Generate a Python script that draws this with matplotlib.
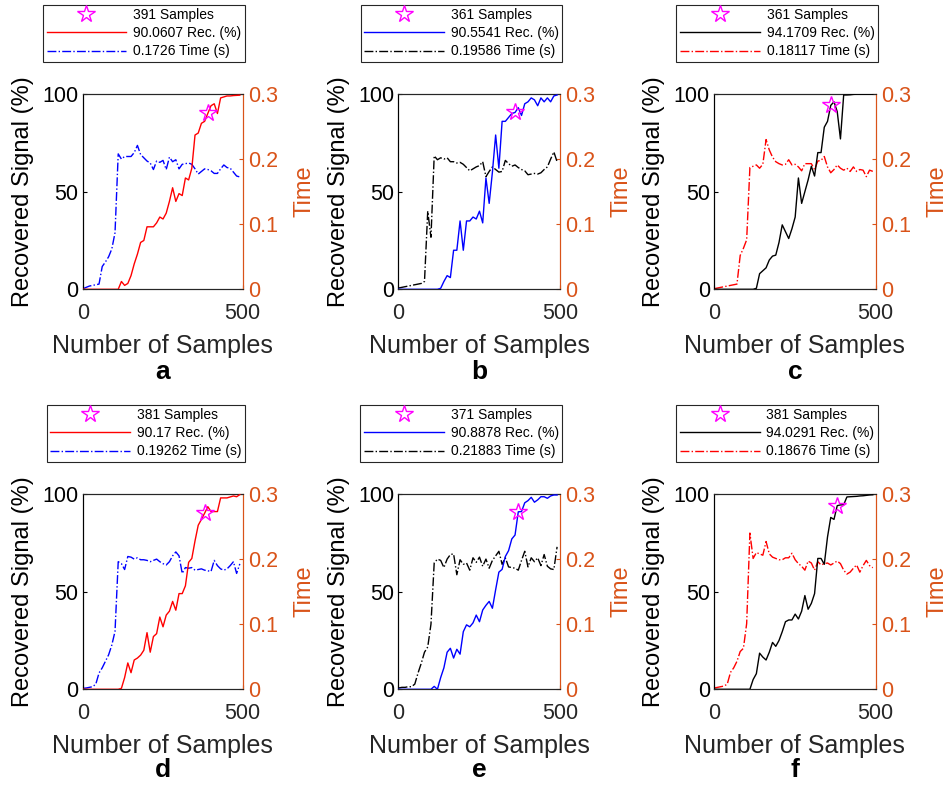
#!/usr/bin/env python3
"""Recovered signal and run time versus number of samples, six panels."""

import matplotlib

matplotlib.use("Agg")
import matplotlib.pyplot as plt
from matplotlib.lines import Line2D

plt.rcParams["font.family"] = ["Liberation Sans", "DejaVu Sans"]

ORANGE = "#D95319"
DARK = "#262626"

# sample counts on the x axis (1, 11, ..., 491)
n_samples = list(range(1, 500, 10))

panel_names = ["a", "b", "c", "d", "e", "f"]
star_samples = [391, 361, 361, 381, 371, 381]
star_rec = [90.0607, 90.5541, 94.1709, 90.17, 90.8878, 94.0291]
final_time = [0.1726, 0.19586, 0.18117, 0.19262, 0.21883, 0.18676]
rec_colors = ["#FF0000", "#0000FF", "#000000", "#FF0000", "#0000FF", "#000000"]
time_colors = ["#0000FF", "#000000", "#FF0000", "#0000FF", "#000000", "#FF0000"]

rec_a = [0] * 12 + [4, 2, 3, 7, 13, 18, 24, 25, 32, 32, 32, 34, 37, 36, 39, 45, 52, 45,
                    49, 48, 57, 56, 62, 79, 80, 85, 86, 90.0607, 94, 95, 90, 98, 98.5,
                    99, 99, 99.2, 99.3, 99.4]
time_a = [0.001, 0.003, 0.005, 0.006, 0.007, 0.008, 0.035, 0.042, 0.05, 0.062,
          0.087, 0.208, 0.200, 0.204, 0.204, 0.204, 0.210, 0.221, 0.207, 0.202,
          0.197, 0.194, 0.184, 0.197, 0.195, 0.198, 0.184, 0.203, 0.196, 0.199,
          0.185, 0.192, 0.193, 0.194, 0.192, 0.185, 0.177, 0.181, 0.185, 0.184,
          0.182, 0.178, 0.178, 0.185, 0.191, 0.187, 0.186, 0.180, 0.174, 0.1726]

rec_b = [0] * 13 + [0.5, 4, 7, 6, 20, 20, 35, 20, 35, 35, 37, 36, 40, 34, 57, 44, 60,
                    79, 62, 86, 86, 88, 90, 90.5541, 93, 89, 95, 96, 98, 97, 94, 98,
                    96, 98, 96, 99, 99.5]
time_b = [0.002, 0.003, 0.004, 0.005, 0.006, 0.007, 0.008, 0.009, 0.012, 0.120,
          0.080, 0.205, 0.199, 0.202, 0.200, 0.202, 0.196, 0.196, 0.194, 0.195,
          0.192, 0.187, 0.182, 0.185, 0.188, 0.190, 0.196, 0.173, 0.181, 0.188,
          0.184, 0.180, 0.181, 0.198, 0.193, 0.189, 0.191, 0.187, 0.184, 0.182,
          0.176, 0.177, 0.178, 0.177, 0.179, 0.184, 0.188, 0.200, 0.211, 0.19586]

rec_c = [0] * 13 + [0.5, 8, 9.5, 11, 15, 17, 17.5, 24, 33, 29.5, 26, 31, 37, 57, 44,
                    50, 56, 63, 58, 70, 70, 83, 86, 94.1709, 96, 91, 77, 99.5, 99.5,
                    99.6, 99.8, 99.9, 99.9, 99.9, 99.9, 99.9, 99.9]
time_c = [0.001, 0.002, 0.003, 0.004, 0.005, 0.006, 0.007, 0.008, 0.052, 0.063,
          0.076, 0.187, 0.189, 0.191, 0.186, 0.192, 0.230, 0.214, 0.203, 0.196,
          0.193, 0.191, 0.192, 0.199, 0.191, 0.192, 0.188, 0.182, 0.193, 0.193,
          0.193, 0.184, 0.197, 0.198, 0.204, 0.188, 0.179, 0.184, 0.191, 0.186,
          0.183, 0.186, 0.181, 0.188, 0.181, 0.184, 0.183, 0.173, 0.183, 0.18117]

rec_d = [0] * 12 + [0.5, 6, 13.5, 8.5, 15, 16, 17.5, 20, 29, 19, 27, 28.5, 37, 32, 38,
                    40, 45, 40.5, 49, 49, 53, 65, 67, 76, 84, 87, 90.17, 93.5, 91, 91,
                    91, 98, 98, 98, 98.5, 99, 98.6, 99.7]
time_d = [0.0015, 0.002, 0.003, 0.004, 0.008, 0.025, 0.033, 0.043, 0.053, 0.068,
          0.089, 0.196, 0.193, 0.184, 0.204, 0.203, 0.200, 0.202, 0.199, 0.199,
          0.198, 0.196, 0.198, 0.200, 0.196, 0.193, 0.191, 0.196, 0.205, 0.211,
          0.205, 0.178, 0.187, 0.186, 0.187, 0.183, 0.184, 0.185, 0.183, 0.182,
          0.181, 0.198, 0.190, 0.185, 0.183, 0.185, 0.190, 0.196, 0.178, 0.19262]

rec_e = [0] * 11 + [1.5, 0, 6, 11, 19, 21, 16, 20.5, 18, 29.5, 33, 32, 34, 38, 34.6,
                    40.6, 43, 45, 41.5, 51, 60, 61.4, 68, 71, 77, 79, 90.8878, 91, 95.5,
                    96.6, 98.3, 95.8, 97, 98.6, 98.6, 97.8, 99, 99.5, 99.5]
time_e = [0.002, 0.003, 0.003, 0.004, 0.004, 0.008, 0.025, 0.040, 0.057, 0.065,
          0.100, 0.194, 0.200, 0.198, 0.187, 0.200, 0.207, 0.208, 0.176, 0.199,
          0.192, 0.194, 0.183, 0.202, 0.195, 0.203, 0.189, 0.200, 0.186, 0.198,
          0.205, 0.212, 0.192, 0.202, 0.188, 0.187, 0.186, 0.183, 0.198, 0.212,
          0.188, 0.202, 0.196, 0.202, 0.190, 0.207, 0.189, 0.185, 0.184, 0.21883]

rec_f = [0] * 12 + [5, 8, 18.5, 16.5, 15, 19, 24, 22, 25, 29.5, 34.6, 35.5, 35.5, 38.5,
                    36, 40, 48, 41, 44, 49, 67, 67, 64, 78, 88, 87, 94.0291, 94.4, 94.5,
                    98.5, 98.6, 98.7, 98.8, 99, 99.1, 99.3, 99.5, 99.6]
time_f = [0.002, 0.003, 0.004, 0.005, 0.008, 0.026, 0.033, 0.043, 0.058, 0.063,
          0.101, 0.240, 0.201, 0.210, 0.208, 0.206, 0.227, 0.208, 0.203, 0.201,
          0.199, 0.199, 0.202, 0.202, 0.209, 0.199, 0.193, 0.189, 0.183, 0.197,
          0.194, 0.183, 0.196, 0.191, 0.193, 0.194, 0.191, 0.194, 0.197, 0.193,
          0.183, 0.177, 0.180, 0.186, 0.191, 0.180, 0.190, 0.198, 0.190, 0.18676]

rec_series = [rec_a, rec_b, rec_c, rec_d, rec_e, rec_f]
time_series = [time_a, time_b, time_c, time_d, time_e, time_f]

# axes boxes in pixels
W, H = 944, 787
lefts = [(82.7, 242.7), (398.3, 560.0), (714.0, 875.7)]
rows = [(94.0, 289.3), (494.0, 689.3)]


def draw_panel(fig, k):
    col, row = k % 3, k // 3
    x0, x1 = lefts[col]
    y0, y1 = rows[row]
    ax = fig.add_axes([x0 / W, 1 - y1 / H, (x1 - x0) / W, (y1 - y0) / H])
    ax2 = ax.twinx()

    ax2.plot(n_samples, time_series[k], color=time_colors[k], lw=1.0, ls="-.")
    ax.plot(n_samples, rec_series[k], color=rec_colors[k], lw=1.0, zorder=3)
    ax.plot([star_samples[k]], [star_rec[k]], ls="none", marker="*", ms=13,
            mfc="none", mec="#FF00FF", mew=1.0, zorder=4)
    ax.set_zorder(ax2.get_zorder() + 1)
    ax.patch.set_visible(False)

    ax.set_xlim(0, 500)
    ax.set_ylim(0, 100)
    ax2.set_ylim(0, 0.3)
    ax.set_xticks([0, 500])
    ax.set_yticks([0, 50, 100])
    ax2.set_yticks([0, 0.1, 0.2, 0.3])
    ax2.set_yticklabels(["0", "0.1", "0.2", "0.3"])

    ax.tick_params(axis="x", direction="in", length=3, pad=10, labelsize=15.5, colors=DARK)
    ax.tick_params(axis="y", direction="in", length=3, pad=3, labelsize=15.5, colors="black")
    ax2.tick_params(axis="y", direction="in", length=3, pad=4, labelsize=15.5, colors=ORANGE)

    for a in (ax, ax2):
        for side in ("top", "bottom"):
            a.spines[side].set_color(DARK)
            a.spines[side].set_linewidth(0.8)
        a.spines["left"].set_color("black")
        a.spines["left"].set_linewidth(0.8)
        a.spines["right"].set_color(ORANGE)
        a.spines["right"].set_linewidth(0.8)

    ax.set_xlabel("Number of Samples", fontsize=18, color=DARK, labelpad=7)
    ax.set_ylabel("Recovered Signal (%)", fontsize=17, color="black", labelpad=6)
    ax2.set_ylabel("Time", fontsize=17, color=ORANGE, rotation=90, labelpad=11)

    handles = [
        Line2D([], [], ls="none", marker="*", ms=13, mfc="none", mec="#FF00FF", mew=1.0),
        Line2D([], [], color=rec_colors[k], lw=1.0),
        Line2D([], [], color=time_colors[k], lw=1.0, ls="-."),
    ]
    labels = [
        f"{star_samples[k]} Samples",
        f"{star_rec[k]:g} Rec. (%)",
        f"{final_time[k]:g} Time (s)",
    ]
    leg = ax.legend(handles, labels, loc="lower right", bbox_to_anchor=(1.014, 1.164),
                    borderaxespad=0, fontsize=10, handlelength=5.75, handletextpad=0.5,
                    labelspacing=0.3, borderpad=0.25, fancybox=False, framealpha=1,
                    edgecolor=DARK, numpoints=1)
    leg.get_frame().set_linewidth(0.8)

    label_y = 372 if row == 0 else 770
    fig.text((x0 + x1) / 2 / W, 1 - label_y / H, panel_names[k], fontsize=19,
             fontweight="bold", ha="center", va="center")


def main():
    fig = plt.figure(figsize=(W / 100, H / 100), dpi=100)
    for k in range(6):
        draw_panel(fig, k)
    fig.savefig("out.png", dpi=100)
    plt.close(fig)


if __name__ == "__main__":
    main()
